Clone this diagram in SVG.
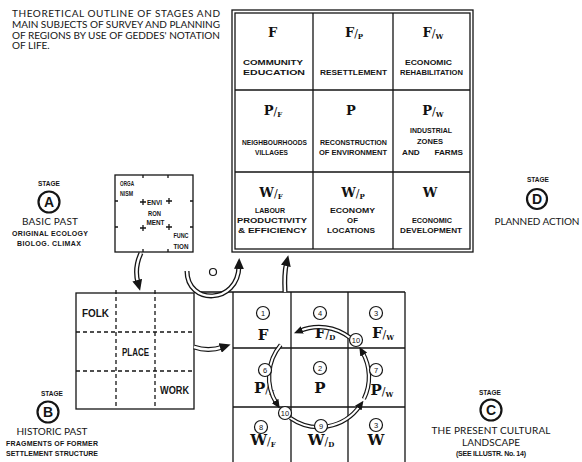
<svg xmlns="http://www.w3.org/2000/svg" width="582" height="462" viewBox="0 0 582 462">
<style>
  .t{font-family:"Lato","Open Sans","Liberation Sans",sans-serif;fill:#151515}
  .title{font-size:10px}
  .lbl{font-family:"Liberation Sans","DejaVu Sans",sans-serif;font-size:7.8px;font-weight:bold;fill:#151515;text-anchor:middle}
  .ob{font-family:"Liberation Sans",sans-serif;font-size:7.5px;font-weight:bold;fill:#151515}
  .fl{font-family:"Liberation Sans",sans-serif;font-size:10px;font-weight:bold;fill:#151515}
  .sym{font-family:"DejaVu Serif","Liberation Serif",serif;font-weight:bold;font-size:13px;fill:#111;text-anchor:middle}
  .symb{font-size:15px}
  .sl{font-weight:normal;font-size:11px}
  .sub{font-size:7px;font-weight:bold}
  .ln{stroke:#151515;fill:none;stroke-width:1.3}
  .dash{stroke:#151515;fill:none;stroke-width:1.3;stroke-dasharray:4 3}
  .hb{stroke:#151515;fill:none;stroke-width:5}
  .hw{stroke:#fff;fill:none;stroke-width:2.4}
  .rb{stroke:#151515;fill:none;stroke-width:4.4}
  .rw{stroke:#fff;fill:none;stroke-width:2.1}
  .stg{font-family:"Liberation Sans",sans-serif;font-size:6.5px;font-weight:bold;fill:#151515;text-anchor:middle}
  .sc{fill:#fff;stroke:#151515;stroke-width:2.2}
  .sl2{font-family:"Liberation Sans",sans-serif;font-size:14px;font-weight:bold;fill:#151515;text-anchor:middle}
  .stn{font-family:"Lato","Open Sans","Liberation Sans",sans-serif;font-size:10px;fill:#151515;text-anchor:middle}
  .sts{font-family:"Liberation Sans",sans-serif;font-size:7px;font-weight:bold;fill:#151515;text-anchor:middle}
  .nc{fill:#fff;stroke:#151515;stroke-width:1.2}
  .nt{font-family:"Liberation Sans",sans-serif;font-size:7.5px;fill:#151515;text-anchor:middle}
</style>
<defs>
  <marker id="ah" markerUnits="userSpaceOnUse" markerWidth="11" markerHeight="10" viewBox="0 0 11 10" refX="3" refY="5" orient="auto">
    <path d="M0,0 L11,5 L0,10 z" fill="#151515"/>
  </marker>
  <marker id="ahs" markerUnits="userSpaceOnUse" markerWidth="9" markerHeight="8" viewBox="0 0 9 8" refX="3" refY="4" orient="auto">
    <path d="M0,0 L9,4 L0,8 z" fill="#151515"/>
  </marker>
</defs>
<rect width="582" height="462" fill="#fff"/>

<g id="title" class="t title">
  <text x="12" y="17" textLength="208">THEORETICAL OUTLINE OF STAGES AND</text>
  <text x="12" y="27.5" textLength="208">MAIN SUBJECTS OF SURVEY AND PLANNING</text>
  <text x="12" y="38.5" textLength="208">OF REGIONS BY USE OF GEDDES' NOTATION</text>
  <text x="12" y="49">OF LIFE.</text>
</g>

<g id="plan-grid">
  <rect x="232" y="10" width="241" height="242" class="ln" stroke-width="1.5"/>
  <rect x="235" y="13" width="235" height="236" class="ln" stroke-width="1.1"/>
  <path class="ln" d="M313,13 V249 M393,13 V249 M235,90 H470 M235,172 H470"/>
  <text class="sym" x="272.5" y="37">F</text>
  <text class="sym" x="354" y="37">F<tspan class="sl">/</tspan><tspan class="sub" dy="2">P</tspan></text>
  <text class="sym" x="433" y="37">F<tspan class="sl">/</tspan><tspan class="sub" dy="2">W</tspan></text>
  <text class="sym" x="273" y="115">P<tspan class="sl">/</tspan><tspan class="sub" dy="2">F</tspan></text>
  <text class="sym" x="351" y="115">P</text>
  <text class="sym" x="433" y="115">P<tspan class="sl">/</tspan><tspan class="sub" dy="2">W</tspan></text>
  <text class="sym" x="271" y="197">W<tspan class="sl">/</tspan><tspan class="sub" dy="2">F</tspan></text>
  <text class="sym" x="353" y="197">W<tspan class="sl">/</tspan><tspan class="sub" dy="2">P</tspan></text>
  <text class="sym" x="430" y="197">W</text>
  <text class="lbl" x="273" y="64.5" textLength="60" lengthAdjust="spacingAndGlyphs">COMMUNITY</text>
  <text class="lbl" x="274" y="74.5" textLength="62" lengthAdjust="spacingAndGlyphs">EDUCATION</text>
  <text class="lbl" x="353.5" y="74.5" textLength="67" lengthAdjust="spacingAndGlyphs">RESETTLEMENT</text>
  <text class="lbl" x="428.5" y="64.5" textLength="47" lengthAdjust="spacingAndGlyphs">ECONOMIC</text>
  <text class="lbl" x="431.5" y="74.5" textLength="63" lengthAdjust="spacingAndGlyphs">REHABILITATION</text>
  <text class="lbl" x="274.5" y="144.5" textLength="65" lengthAdjust="spacingAndGlyphs">NEIGHBOURHOODS</text>
  <text class="lbl" x="271.5" y="154.5" textLength="33" lengthAdjust="spacingAndGlyphs">VILLAGES</text>
  <text class="lbl" x="353.5" y="144.5" textLength="67" lengthAdjust="spacingAndGlyphs">RECONSTRUCTION</text>
  <text class="lbl" x="353" y="154.5" textLength="68" lengthAdjust="spacingAndGlyphs">OF ENVIRONMENT</text>
  <text class="lbl" x="431" y="132.5" textLength="42" lengthAdjust="spacingAndGlyphs">INDUSTRIAL</text>
  <text class="lbl" x="430" y="143.5" textLength="26" lengthAdjust="spacingAndGlyphs">ZONES</text>
  <text class="lbl" x="432.5" y="154.5" textLength="61" lengthAdjust="spacingAndGlyphs">AND<tspan dx="14">FARMS</tspan></text>
  <text class="lbl" x="270" y="212.5" textLength="30" lengthAdjust="spacingAndGlyphs">LABOUR</text>
  <text class="lbl" x="272" y="222.5" textLength="70" lengthAdjust="spacingAndGlyphs">PRODUCTIVITY</text>
  <text class="lbl" x="272.5" y="232.5" textLength="69" lengthAdjust="spacingAndGlyphs">&amp; EFFICIENCY</text>
  <text class="lbl" x="352.5" y="212.5" textLength="45" lengthAdjust="spacingAndGlyphs">ECONOMY</text>
  <text class="lbl" x="352.5" y="222.5">OF</text>
  <text class="lbl" x="351" y="232.5" textLength="48" lengthAdjust="spacingAndGlyphs">LOCATIONS</text>
  <text class="lbl" x="432" y="222.5" textLength="40" lengthAdjust="spacingAndGlyphs">ECONOMIC</text>
  <text class="lbl" x="431" y="233" textLength="62" lengthAdjust="spacingAndGlyphs">DEVELOPMENT</text>
</g>

<g id="stage-a">
  <text class="stg" x="49" y="185.5">STAGE</text>
  <circle class="sc" cx="49" cy="202" r="10.5"/>
  <text class="sl2" x="49" y="207">A</text>
  <text class="stn" x="50" y="224.5" textLength="56">BASIC PAST</text>
  <text class="sts" x="50" y="236" textLength="76">ORIGINAL ECOLOGY</text>
  <text class="sts" x="49" y="246" textLength="64">BIOLOG. CLIMAX</text>
</g>

<g id="organism-box">
  <rect x="115" y="175" width="78" height="77" class="ln" stroke-width="1.5"/>
  <path class="ln" d="M143,175 v3 M168,175 v3 M143,252 v-3 M168,252 v-3 M115,201 h3 M115,227 h3 M193,201 h-3 M193,227 h-3"/>
  <path class="ln" d="M140,202 h6 M143,199 v6 M166,201 h6 M169,198 v6 M140,228 h6 M143,225 v6 M166,227 h6 M169,224 v6"/>
  <text class="ob" x="120" y="186" textLength="14" lengthAdjust="spacingAndGlyphs">ORGA</text>
  <text class="ob" x="120" y="196" textLength="13" lengthAdjust="spacingAndGlyphs">NISM</text>
  <text class="ob" x="147" y="205" textLength="15" lengthAdjust="spacingAndGlyphs">ENVI</text>
  <text class="ob" x="148" y="216" textLength="13" lengthAdjust="spacingAndGlyphs">RON</text>
  <text class="ob" x="146.5" y="225" textLength="18" lengthAdjust="spacingAndGlyphs">MENT</text>
  <text class="ob" x="173.5" y="238" textLength="15" lengthAdjust="spacingAndGlyphs">FUNC</text>
  <text class="ob" x="173.5" y="249" textLength="15" lengthAdjust="spacingAndGlyphs">TION</text>
</g>

<g id="stage-d">
  <text class="stg" x="538" y="181.5">STAGE</text>
  <circle class="sc" cx="537" cy="199" r="10"/>
  <text class="sl2" x="537" y="204">D</text>
  <text class="stn" x="537" y="224.5" textLength="85">PLANNED ACTION</text>
</g>

<g id="folk-grid">
  <rect x="76" y="293" width="118" height="116" class="ln" stroke-width="1.5"/>
  <path class="dash" d="M116,290 V409 M155,290 V409 M76,332 H194 M76,371 H194"/>
  <text class="fl" x="82" y="317" textLength="27" lengthAdjust="spacingAndGlyphs">FOLK</text>
  <text class="fl" x="122" y="356" textLength="27" lengthAdjust="spacingAndGlyphs">PLACE</text>
  <text class="fl" x="160" y="394" textLength="29" lengthAdjust="spacingAndGlyphs">WORK</text>
</g>

<g id="stage-b">
  <text class="stg" x="52" y="395.5">STAGE</text>
  <circle class="sc" cx="48" cy="412" r="10.5"/>
  <text class="sl2" x="48" y="417">B</text>
  <text class="stn" x="52" y="434.5" textLength="71">HISTORIC PAST</text>
  <text class="sts" x="52" y="446" textLength="92">FRAGMENTS OF FORMER</text>
  <text class="sts" x="52" y="456" textLength="92">SETTLEMENT STRUCTURE</text>
</g>

<g id="present-grid">
  <path class="ln" stroke-width="1.5" d="M194,292 H405 M233,292 V462 M291,292 V462 M348,292 V462 M405,292 V462 M233,348 H405 M233,407 H405"/>
  <text class="sym symb" x="263" y="340">F</text>
  <text class="sym symb" x="325" y="338">F<tspan class="sl">/</tspan><tspan class="sub" dy="2">D</tspan></text>
  <text class="sym symb" x="383" y="338">F<tspan class="sl">/</tspan><tspan class="sub" dy="2">W</tspan></text>
  <text class="sym symb" x="264" y="393">P<tspan class="sl">/</tspan><tspan class="sub" dy="2">F</tspan></text>
  <text class="sym symb" x="320" y="393">P</text>
  <text class="sym symb" x="382" y="395">P<tspan class="sl">/</tspan><tspan class="sub" dy="2">W</tspan></text>
  <text class="sym symb" x="263" y="445">W<tspan class="sl">/</tspan><tspan class="sub" dy="2">F</tspan></text>
  <text class="sym symb" x="321" y="445">W<tspan class="sl">/</tspan><tspan class="sub" dy="2">D</tspan></text>
  <text class="sym symb" x="376" y="445">W</text>
</g>

<g id="cycle">
  <path class="rb" d="M349.8,337.6 A50,50 0 0 0 299.5,331"/>
  <path class="rw" d="M349.8,337.6 A50,50 0 0 0 299.5,331" marker-end="url(#ahs)"/>
  <path class="rb" d="M280.7,344.9 A50,50 0 0 0 276.6,403.5"/>
  <path class="rw" d="M280.7,344.9 A50,50 0 0 0 276.6,403.5" marker-end="url(#ahs)"/>
  <path class="rb" d="M290.3,418 A50,50 0 0 0 360,405.7"/>
  <path class="rw" d="M290.3,418 A50,50 0 0 0 360,405.7" marker-end="url(#ahs)"/>
  <path class="rb" d="M363.9,398.9 A50,50 0 0 0 362.3,352"/>
  <path class="rw" d="M363.9,398.9 A50,50 0 0 0 362.3,352" marker-end="url(#ahs)"/>
  <g>
    <circle class="nc" cx="263" cy="313" r="6.5"/><text class="nt" x="263" y="315.7">1</text>
    <circle class="nc" cx="320" cy="313" r="6.5"/><text class="nt" x="320" y="315.7">4</text>
    <circle class="nc" cx="376" cy="313" r="6.5"/><text class="nt" x="376" y="315.7">3</text>
    <circle class="nc" cx="356" cy="340" r="6.5"/><text class="nt" x="356" y="342.5" font-size="6.5">10</text>
    <circle class="nc" cx="265" cy="370" r="6.5"/><text class="nt" x="265" y="372.7">6</text>
    <circle class="nc" cx="320" cy="368" r="6.5"/><text class="nt" x="320" y="370.7">2</text>
    <circle class="nc" cx="376" cy="370" r="6.5"/><text class="nt" x="376" y="372.7">7</text>
    <circle class="nc" cx="285" cy="413" r="6.5"/><text class="nt" x="285" y="415.5" font-size="6.5">10</text>
    <circle class="nc" cx="261" cy="427" r="6.5"/><text class="nt" x="261" y="429.7">8</text>
    <circle class="nc" cx="321" cy="426" r="6.5"/><text class="nt" x="321" y="428.7">9</text>
    <circle class="nc" cx="376" cy="425" r="6.5"/><text class="nt" x="376" y="427.7">3</text>
  </g>
</g>

<g id="stage-c">
  <text class="stg" x="490" y="394.5">STAGE</text>
  <circle class="sc" cx="491" cy="410" r="10.5"/>
  <text class="sl2" x="491" y="415">C</text>
  <text class="stn" x="491" y="433.5" textLength="119">THE PRESENT CULTURAL</text>
  <text class="stn" x="491" y="445.5" textLength="58">LANDSCAPE</text>
  <text class="sts" x="491" y="456" textLength="70" font-weight="normal">(SEE ILLUSTR. No. 14)</text>
</g>

<g id="connectors">
  <path class="hb" d="M141,253 Q134,268 138,283"/>
  <path class="hw" d="M141,253 Q134,268 138,283" marker-end="url(#ah)"/>
  <path class="hb" d="M194,347 Q208,352 223,347"/>
  <path class="hw" d="M194,347 Q208,352 223,347" marker-end="url(#ah)"/>
  <path class="hb" d="M187,271 C187,305 238,305 239,266"/>
  <path class="hw" d="M187,271 C187,305 238,305 239,266" marker-end="url(#ah)"/>
  <path class="hb" d="M285,292 Q284,274 286.5,263"/>
  <path class="hw" d="M285,292 Q284,274 286.5,263" marker-end="url(#ah)"/>
  <circle cx="213" cy="272" r="3.5" fill="#fff" stroke="#151515" stroke-width="1.2"/>
</g>
</svg>
